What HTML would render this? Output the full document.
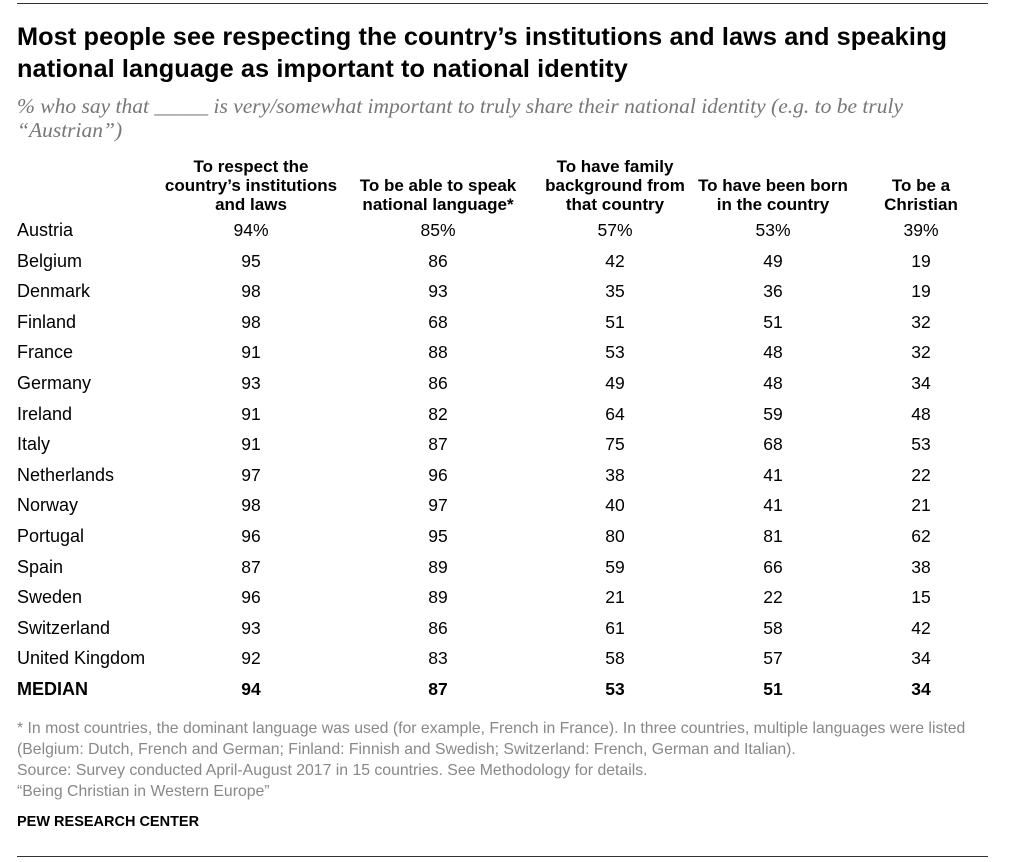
<!DOCTYPE html>
<html><head><meta charset="utf-8">
<style>
body{margin:0;width:1024px;height:862px;background:#fff;font-family:"Liberation Sans",Arial,sans-serif;color:#000;position:relative;overflow:hidden}
.a{position:absolute;white-space:nowrap}
.t{font-weight:bold;font-size:25.3px;left:17px;letter-spacing:0.1px}
.s{font-family:"Liberation Serif",serif;font-style:italic;color:#777;font-size:21.5px;left:17px}
.h{font-weight:bold;font-size:17px;text-align:center;line-height:19px;transform:translateX(-50%)}
.c{font-size:17.5px;text-align:center;transform:translateX(-50%)}
.r{font-size:18px;left:17px}
.f{font-size:15.8px;color:#888;left:17px}
.line{position:absolute;left:17px;width:971px;height:1px;background:#333}
</style></head><body>
<div class="line" style="top:3px"></div>
<div class="a t" style="top:23px">Most people see respecting the country’s institutions and laws and speaking</div>
<div class="a t" style="top:55px">national language as important to national identity</div>
<div class="a s" style="top:94px;line-height:24px">% who say that _____ is very/somewhat important to truly share their national identity (e.g. to be truly<br>“Austrian”)</div>
<div id="tbl"></div>
<div class="a f" style="top:718px;line-height:21px">* In most countries, the dominant language was used (for example, French in France). In three countries, multiple languages were listed<br>(Belgium: Dutch, French and German; Finland: Finnish and Swedish; Switzerland: French, German and Italian).<br>Source: Survey conducted April-August 2017 in 15 countries. See Methodology for details.<br>“Being Christian in Western Europe”</div>
<div class="a" style="left:17px;top:814px;font-weight:bold;font-size:14.5px">PEW RESEARCH CENTER</div>
<div class="line" style="top:856px"></div>
<script>
const headers=[["To respect the","country’s institutions","and laws"],["To be able to speak","national language*"],["To have family","background from","that country"],["To have been born","in the country"],["To be a","Christian"]];
const countries=["Austria","Belgium","Denmark","Finland","France","Germany","Ireland","Italy","Netherlands","Norway","Portugal","Spain","Sweden","Switzerland","United Kingdom","MEDIAN"];
const respectLaws=[94,95,98,98,91,93,91,91,97,98,96,87,96,93,92,94];
const speakLanguage=[85,86,93,68,88,86,82,87,96,97,95,89,89,86,83,87];
const familyBackground=[57,42,35,51,53,49,64,75,38,40,80,59,21,61,58,53];
const bornInCountry=[53,49,36,51,48,48,59,68,41,41,81,66,22,58,57,51];
const beChristian=[39,19,19,32,32,34,48,53,22,21,62,38,15,42,34,34];
const series=[respectLaws,speakLanguage,familyBackground,bornInCountry,beChristian];
const colX=[251,438,615,773,921];
const tbl=document.getElementById('tbl');
headers.forEach((h,i)=>{
  const d=document.createElement('div');
  d.className='a h';
  
  
  d.style.left=colX[i]+'px';
  d.style.top=(214-19*h.length)+'px';
  d.innerHTML=h.join('<br>');
  tbl.appendChild(d);
});
countries.forEach((c,r)=>{
  const y=220+r*30.6;
  const bold=c==='MEDIAN';
  const d=document.createElement('div');
  d.className='a r';
  
  
  d.style.top=y+'px';
  if(bold)d.style.fontWeight='bold';
  d.textContent=c;
  tbl.appendChild(d);
  series.forEach((s,i)=>{
    const e=document.createElement('div');
    e.className='a c';
    
    
    e.style.left=colX[i]+'px';
    e.style.top=y+'px';
    if(bold)e.style.fontWeight='bold';
    e.textContent=s[r]+(r===0?'%':'');
    tbl.appendChild(e);
  });
});
</script>
</body></html>
